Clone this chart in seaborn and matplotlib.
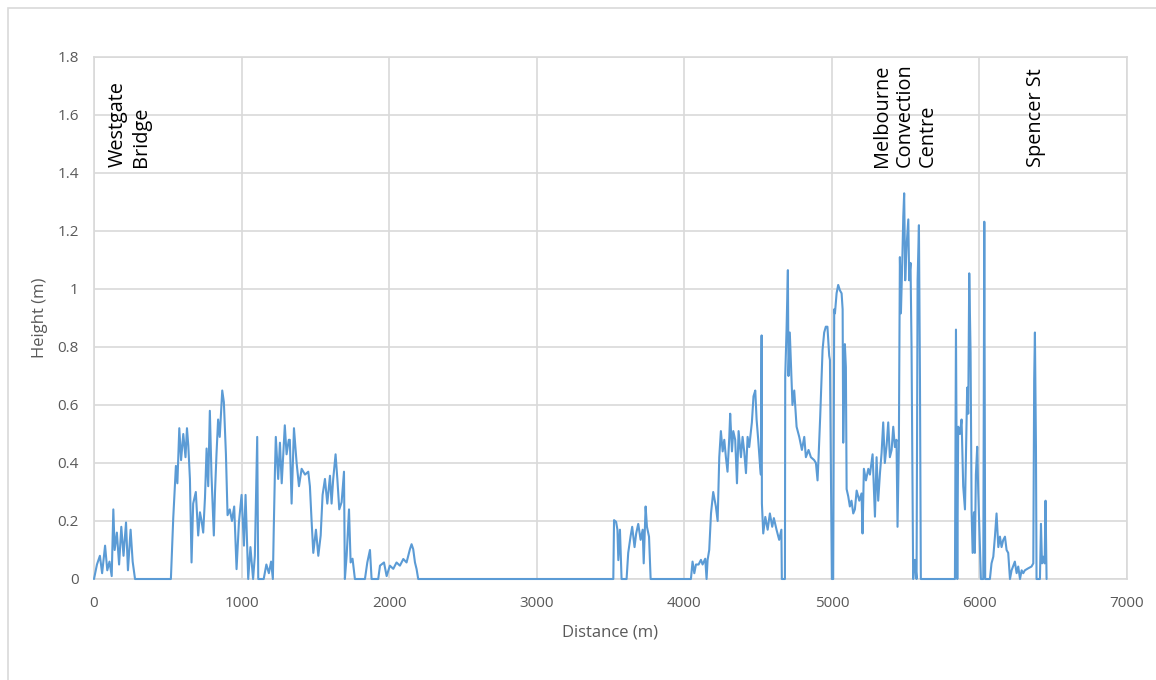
import matplotlib.pyplot as plt
import matplotlib.patches as mpatches
import pandas as pd
import seaborn as sns

# Height profile along the route
distance = [
    0, 20, 40, 55, 75, 90, 105, 120, 131, 140, 155, 170, 185, 200, 217, 230, 248, 262, 278,
    521, 537, 555, 565, 578, 590, 605, 620, 630, 639, 650, 661, 672, 690, 706, 718, 729, 740,
    752, 763, 774, 785, 796, 812, 820, 830, 841, 852, 869, 880, 894, 905, 920, 935, 950, 966,
    982, 1000, 1016, 1027, 1045, 1060, 1078, 1090, 1106, 1113, 1150, 1168, 1185, 1200, 1212,
    1218, 1226, 1232, 1248, 1260, 1272, 1293, 1305, 1320, 1327,
    1339, 1355, 1373, 1389, 1407, 1430, 1452, 1463, 1475, 1486, 1504, 1520, 1536, 1549, 1565,
    1581, 1599, 1610, 1621, 1637, 1649, 1662, 1678, 1694, 1700, 1712, 1728, 1739, 1752, 1768,
    1836, 1852, 1870, 1881, 1926, 1938, 1965, 1983, 2005, 2028, 2050, 2073, 2096, 2118, 2141,
    2152, 2163, 2175, 2186, 2197,
    3519, 3524, 3538, 3547, 3553, 3564, 3575, 3609, 3620, 3636, 3647, 3663, 3674, 3688, 3704,
    3718, 3725, 3738, 3747, 3761, 3772,
    4045, 4056, 4068, 4079, 4097, 4113, 4124, 4142, 4151, 4158, 4169, 4181, 4196, 4214, 4226,
    4237, 4248, 4260, 4271, 4282, 4293, 4305, 4311, 4323, 4332, 4345, 4357, 4368, 4384, 4395,
    4406, 4418, 4429, 4440, 4458, 4469, 4481, 4490, 4501, 4512, 4519, 4524, 4526, 4535, 4549,
    4565, 4580, 4596, 4607, 4625, 4643, 4658, 4661, 4682, 4684, 4693, 4702, 4706, 4715, 4722,
    4733, 4745, 4761, 4779, 4797, 4813, 4824, 4842, 4858, 4880, 4892, 4903, 4910, 4921, 4937,
    4948, 4959, 4970, 4982, 4987, 5000, 5009, 5016,
    5021, 5032, 5043, 5055, 5066, 5073, 5077, 5088, 5095, 5100, 5111, 5122, 5133, 5145, 5156,
    5168, 5186, 5201, 5208, 5217, 5231, 5247, 5258, 5276, 5292, 5303, 5314, 5326, 5337, 5348,
    5359, 5371, 5382, 5393, 5405, 5416, 5427, 5438, 5445, 5454, 5461, 5468, 5477, 5484, 5490,
    5497, 5506, 5518, 5524, 5533, 5540, 5551, 5563, 5574, 5581, 5590, 5597, 5603, 5834, 5841,
    5850, 5856, 5868, 5879, 5890, 5902, 5908, 5917, 5924, 5931, 5940, 5947, 5954, 5963, 5969,
    5976, 5985, 5992, 6003, 6010, 6026, 6033, 6039, 6071, 6082, 6094, 6105, 6116, 6128, 6139,
    6150, 6161, 6173, 6184, 6195, 6207, 6218, 6240, 6252, 6263, 6275, 6286, 6297, 6308, 6331,
    6353, 6365, 6371, 6376, 6383, 6387, 6410, 6417, 6424, 6433, 6442, 6448, 6455,
]
height = [
    0, 0.05, 0.08, 0.02, 0.115, 0.03, 0.06, 0.01, 0.24, 0.10, 0.16, 0.05, 0.18, 0.08, 0.195, 0.03, 0.17, 0.06, 0,
    0, 0.21, 0.39, 0.33, 0.52, 0.41, 0.50, 0.42, 0.52, 0.46, 0.345, 0.057, 0.26, 0.30, 0.15, 0.23, 0.20, 0.16,
    0.28, 0.45, 0.32, 0.58, 0.36, 0.15, 0.30, 0.43, 0.55, 0.49, 0.65, 0.61, 0.43, 0.22, 0.24, 0.20, 0.25, 0.034,
    0.195, 0.29, 0.115, 0.29, 0, 0.11, 0, 0.08, 0.49, 0, 0, 0.05, 0.02, 0.06, 0,
    0.17, 0.37, 0.49, 0.345, 0.47, 0.33, 0.53, 0.43, 0.48, 0.48,
    0.26, 0.52, 0.40, 0.32, 0.38, 0.36, 0.37, 0.32, 0.195, 0.09, 0.17, 0.08, 0.15, 0.29, 0.345,
    0.26, 0.356, 0.26, 0.345, 0.43, 0.345, 0.24, 0.265, 0.37, 0, 0.08, 0.24, 0.057, 0.07, 0,
    0, 0.057, 0.10, 0, 0, 0.046, 0.057, 0.01, 0.046, 0.035, 0.057, 0.046, 0.069, 0.057, 0.103,
    0.12, 0.103, 0.057, 0.034, 0,
    0, 0.203, 0.197, 0.17, 0.065, 0.17, 0, 0, 0.09, 0.147, 0.18, 0.11, 0.157, 0.19, 0.135,
    0.17, 0.054, 0.25, 0.18, 0.146, 0,
    0, 0.06, 0.02, 0.05, 0.05, 0.066, 0.05, 0.07, 0, 0.066, 0.10, 0.226, 0.30, 0.25, 0.20,
    0.42, 0.51, 0.44, 0.48, 0.42, 0.37, 0.49, 0.57, 0.44, 0.51, 0.48, 0.33, 0.51, 0.42, 0.49,
    0.44, 0.365, 0.49, 0.455, 0.54, 0.63, 0.65, 0.55, 0.48, 0.40, 0.36, 0.84, 0.26, 0.157, 0.214,
    0.17, 0.226, 0.18, 0.21, 0.17, 0.135, 0.17, 0, 0, 0.70, 0.86, 1.065, 0.70, 0.85, 0.755,
    0.60, 0.65, 0.525, 0.49, 0.445, 0.49, 0.42, 0.445, 0.42, 0.41, 0.40, 0.34, 0.42, 0.56, 0.79,
    0.85, 0.87, 0.87, 0.77, 0.755, 0, 0, 0.93,
    0.916, 0.985, 1.014, 0.995, 0.985, 0.93, 0.47, 0.81, 0.73, 0.31, 0.285, 0.25, 0.27, 0.226, 0.24,
    0.305, 0.27, 0.295, 0.157, 0.38, 0.34, 0.38, 0.36, 0.43, 0.215, 0.42, 0.27, 0.365, 0.435, 0.54,
    0.40, 0.46, 0.54, 0.42, 0.445, 0.525, 0.455, 0.48, 0.18, 0.455, 1.11, 0.916, 1.09, 1.25, 1.33,
    1.03, 1.146, 1.24, 1.03, 1.09, 0.80, 0, 0.066, 0, 1.03, 1.22, 0.686, 0, 0, 0.86,
    0, 0.525, 0.50, 0.55, 0.32, 0.24, 0.40, 0.66, 0.57, 1.054, 0.78, 0.23, 0.09, 0.23, 0.09,
    0.36, 0.456, 0.30, 0.11, 0, 0, 1.232, 0, 0, 0.054, 0.077, 0.146, 0.226, 0.11, 0.146,
    0.11, 0.134, 0.146, 0.10, 0.09, 0, 0.03, 0.06, 0.02, 0.043, 0, 0.03, 0.02, 0.03, 0.037,
    0.043, 0.054, 0.686, 0.85, 0.456, 0, 0, 0.19, 0.054, 0.077, 0.054, 0.27, 0,
]

x_ticks = [0, 1000, 2000, 3000, 4000, 5000, 6000, 7000]
y_ticks = [0, 0.2, 0.4, 0.6, 0.8, 1.0, 1.2, 1.4, 1.6, 1.8]
y_tick_labels = ['0', '0.2', '0.4', '0.6', '0.8', '1', '1.2', '1.4', '1.6', '1.8']

landmarks = ['Westgate\nBridge', 'Melbourne\nConvection\nCentre', 'Spencer St']
landmark_x = [240, 5495, 6386]
landmark_y = 1.42

sns.set_theme(style='white')
plt.rcParams['font.family'] = ['Open Sans', 'DejaVu Sans']

fig, ax = plt.subplots(figsize=(11.56, 6.8), dpi=100)
fig.subplots_adjust(left=94 / 1156, right=1127 / 1156, top=1 - 57 / 680, bottom=1 - 579 / 680)

# light frame around the chart area, like the spreadsheet export
fig.patches.append(mpatches.Rectangle((8 / 1156, -0.05), 1.1, 1.05 - 8 / 680,
                                      transform=fig.transFigure, fill=False,
                                      edgecolor='#D9D9D9', lw=1.2))

df = pd.DataFrame({'Distance (m)': distance, 'Height (m)': height})
sns.lineplot(data=df, x='Distance (m)', y='Height (m)', estimator=None, sort=False,
             color='#5B9BD5', lw=1.5, ax=ax, zorder=3, clip_on=False)

ax.set_xlim(0, 7000)
ax.set_ylim(0, 1.8)
ax.set_xticks(x_ticks)
ax.set_xticklabels([str(t) for t in x_ticks])
ax.set_yticks(y_ticks)
ax.set_yticklabels(y_tick_labels)
ax.grid(True, color='#D9D9D9', lw=1.2)
for s in ax.spines.values():
    s.set_color('#D9D9D9')
    s.set_linewidth(1.2)
ax.tick_params(length=0, labelsize=11, labelcolor='#595959')
ax.tick_params(axis='x', pad=12)
ax.tick_params(axis='y', pad=11)
ax.set_xlabel('Distance (m)', fontsize=12, color='#595959', labelpad=10)
ax.set_ylabel('Height (m)', fontsize=12, color='#595959', labelpad=7)

for name, x in zip(landmarks, landmark_x):
    ax.text(x, landmark_y, name, rotation=90, ha='center', va='bottom',
            multialignment='left', fontsize=14.3, color='black', linespacing=1.22)

fig.savefig('out.png', dpi=100)
